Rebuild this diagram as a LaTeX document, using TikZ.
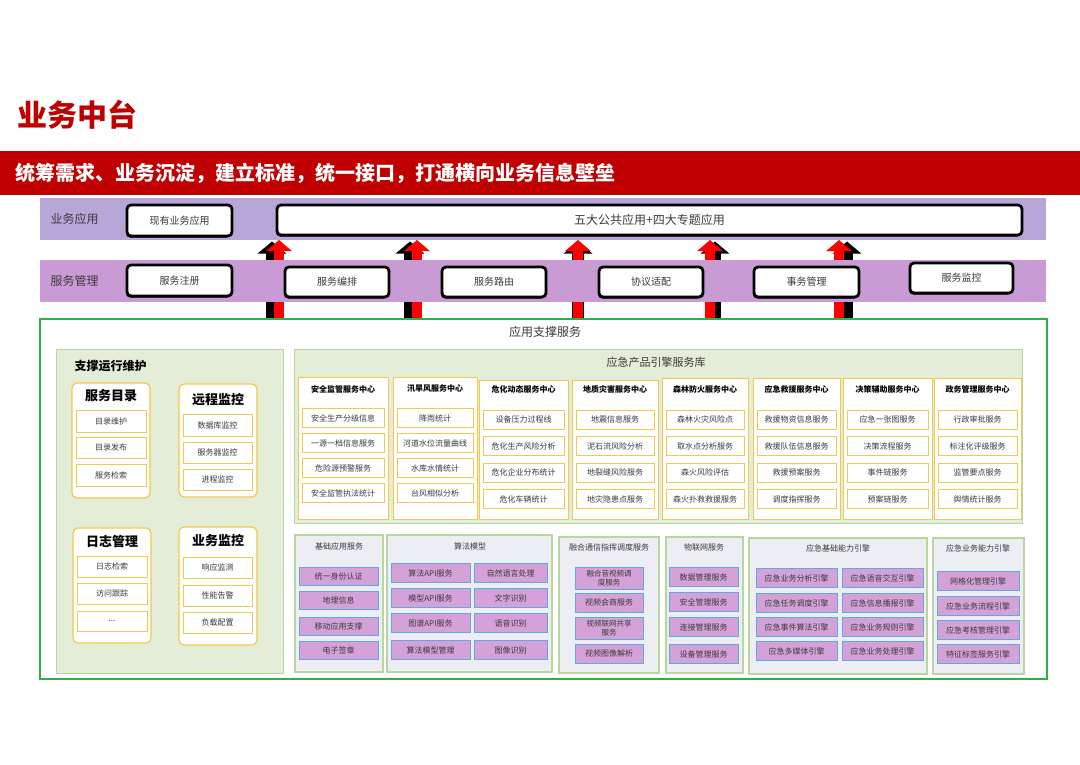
\documentclass[tikz,border=0pt]{standalone}
\usepackage{fontspec}
\setmainfont{Noto Sans CJK SC}
\usetikzlibrary{arrows.meta,shadows}
\definecolor{tred}{HTML}{C00000}
\definecolor{bred}{HTML}{C00000}
\definecolor{bandA}{HTML}{B8A6D8}
\definecolor{bandB}{HTML}{C99BD4}
\definecolor{gbord}{HTML}{2EB04F}
\definecolor{lgfill}{HTML}{E4EDD7}
\definecolor{lgbord}{HTML}{B9D69E}
\definecolor{ybord}{HTML}{F2C94C}
\definecolor{pfill}{HTML}{EDEEF4}
\definecolor{ifill}{HTML}{D4A2D8}
\definecolor{ibord}{HTML}{5EA9DE}
\definecolor{txt}{HTML}{3A3A3A}
\newcommand\myfs[1]{\fontsize{#1}{#1}\selectfont}
\newcommand\rb[7]{\node[#1, minimum width={(#5)-(#3)}, minimum height={(#6)-(#4)}] (#2) at ({((#3)+(#5))/2},{((#4)+(#6))/2}) {#7};}
\def\myrs{418}\def\myrp{25}
\newcommand\engcol[6]{%
  \rb{ycol}{#1}{#2}{#4}{#3}{519}{}
  \node[hdr] (#1h) at ({((#2)+(#3))/2},389) {#5};
  \foreach \t [count=\i] in {#6}{%
    \pgfmathsetmacro\yy{\myrs+(\i-1)*\myrp}
    \rb{eitem}{#1i\i}{#2+4}{\yy-9.5}{#3-4}{\yy+9.5}{\t}
  }}
\tikzset{
  base/.style={inner sep=0pt, outer sep=0pt},
  blk/.style={base, draw=black, line width=2.8pt, fill=white, rounded corners=4pt, font=\myfs{10}, text=txt,
    drop shadow={shadow xshift=-1pt, shadow yshift=-1.5pt, opacity=1, fill=black}},
  lgpanel/.style={base, draw=lgbord, line width=1pt, fill=lgfill},
  ygroup/.style={base, draw=ybord, line width=1.2pt, fill=white, rounded corners=5pt},
  yitem/.style={base, draw=ybord, line width=1pt, fill=white, font=\myfs{8}, text=txt},
  gtitle/.style={font=\myfs{13}\bfseries, text=black},
  ycol/.style={base, draw=ybord, line width=1pt, fill=white},
  eitem/.style={base, draw=ybord, line width=1pt, fill=white, font=\myfs{8}, text=txt},
  hdr/.style={font=\myfs{8}\bfseries, text=black},
  bpan/.style={base, draw=lgbord, line width=1.2pt, fill=pfill},
  ptitle/.style={font=\myfs{8}, text=txt},
  pitem/.style={base, draw=ibord, line width=1pt, fill=ifill, font=\myfs{8}, text=txt},
  blabel/.style={anchor=west, font=\myfs{12}, text=txt},
  arrshadow/.style={black, line width=12pt, -{Triangle[width=28pt,length=12pt]}},
  arrred/.style={red, line width=10pt, -{Triangle[width=25pt,length=11pt]}}
}
\begin{document}
\begin{tikzpicture}[x=1pt,y=-1pt]
\useasboundingbox (0,0) rectangle (1080,764);
\fill[white] (0,0) rectangle (1080,764);
% title and banner
\node[anchor=west, text=tred, font=\myfs{30}\bfseries] (title) at (14,115) {业务中台};
\fill[bred] (0,151) rectangle (1080,195);
\node[anchor=west, text=white, font=\myfs{20}\bfseries] (banner) at (12,173) {统筹需求、业务沉淀，建立标准，统一接口，打通横向业务信息壁垒};
% arrows
\foreach \ax/\sh [count=\k] in {279/-7,417/-7,578/0,710/5,839/8} {
  \coordinate (as\k) at (\ax,318);
  \coordinate (ae\k) at (\ax,240);
  \draw[transform canvas={xshift=\sh pt, yshift=-1.5pt}, arrshadow] (as\k) -- (ae\k);
  \draw[arrred] (as\k) -- (ae\k);
}
% bands
\fill[bandA] (40,198) rectangle (1046,240);
\fill[bandB] (40,260) rectangle (1046,302);
\node[blabel] (lbA) at (47,219) {业务应用};
\node[blabel] (lbB) at (47,281) {服务管理};
\rb{blk}{xy}{127}{205}{232}{236}{现有业务应用}
\rb{blk,font=\myfs{12}}{wd}{277}{205}{1022}{235}{五大公共应用+四大专题应用}
\rb{blk}{zc}{127}{265}{232}{296}{服务注册}
\rb{blk}{bp}{285}{267}{389}{297}{服务编排}
\rb{blk}{ly}{442}{267}{546}{297}{服务路由}
\rb{blk}{xs}{599}{267}{703}{297}{协议适配}
\rb{blk}{sw}{754}{267}{859}{297}{事务管理}
\rb{blk}{jk}{910}{263}{1013}{293}{服务监控}
% green container
\fill[white] (38,318) rectangle (1049,326);
\draw[gbord, line width=2.5pt] (40,319) rectangle (1047,679);
\node[font=\myfs{12}, text=txt] (yyzc) at (545,332) {应用支撑服务};
% left panel
\rb{lgpanel}{sup}{56}{349}{283}{673}{}
\node[anchor=west, font=\myfs{12}\bfseries] (supt) at (71,366) {支撑运行维护};
\rb{ygroup}{g1}{72}{383}{150}{498}{}
\node[gtitle] (g1t) at (111,396) {服务目录};
\rb{yitem}{g1a}{76}{410}{146}{432}{目录维护}
\rb{yitem}{g1b}{76}{437}{146}{458}{目录发布}
\rb{yitem}{g1c}{76}{464}{146}{486}{服务检索}
\rb{ygroup}{g2}{179}{384}{257}{497}{}
\node[gtitle] (g2t) at (218,400) {远程监控};
\rb{yitem}{g2a}{183}{414}{252}{436}{数据库监控}
\rb{yitem}{g2b}{183}{442}{252}{463}{服务器监控}
\rb{yitem}{g2c}{183}{469}{252}{490}{进程监控}
\rb{ygroup}{g3}{73}{528}{151}{643}{}
\node[gtitle] (g3t) at (112,541) {日志管理};
\rb{yitem}{g3a}{77}{556}{147}{577}{日志检索}
\rb{yitem}{g3b}{77}{583}{147}{604}{访问跟踪}
\rb{yitem}{g3c}{77}{611}{147}{631}{...}
\rb{ygroup}{g4}{179}{527}{257}{645}{}
\node[gtitle] (g4t) at (218,541) {业务监控};
\rb{yitem}{g4a}{183}{557}{252}{578}{响应监测}
\rb{yitem}{g4b}{183}{585}{252}{606}{性能告警}
\rb{yitem}{g4c}{183}{612}{252}{633}{负载配置}
% engine library
\rb{lgpanel}{lib}{294}{349}{1022}{523}{}
\node[font=\myfs{11}, text=txt] (libt) at (656,362) {应急产品引擎服务库};
\engcol{c1}{298}{388}{377}{安全监管服务中心}{安全生产分级信息,一源一档信息服务,危险源预警服务,安全监管执法统计}
\engcol{c2}{393}{477}{377}{汛旱风服务中心}{降雨统计,河道水位流量曲线,水库水情统计,台风相似分析}
\def\myrs{419.5}\def\myrp{26.5}
\engcol{c3}{479}{568}{380}{危化动态服务中心}{设备压力过程线,危化生产风险分析,危化企业分布统计,危化车辆统计}
\engcol{c4}{572}{658}{380}{地质灾害服务中心}{地震信息服务,泥石流风险分析,地裂缝风险服务,地灾隐患点服务}
\engcol{c5}{662}{748}{378}{森林防火服务中心}{森林火灾风险点,取水点分析服务,森火风险评估,森火扑救救援服务}
\engcol{c6}{753}{840}{378}{应急救援服务中心}{救援物资信息服务,救援队伍信息服务,救援预案服务,调度指挥服务}
\engcol{c7}{843}{932}{378}{决策辅助服务中心}{应急一张图服务,决策流程服务,事件链服务,预案链服务}
\engcol{c8}{934}{1021}{378}{政务管理服务中心}{行政审批服务,标注化评级服务,监管要点服务,舆情统计服务}
% bottom panels
\rb{bpan}{bp1}{295}{535}{383}{672}{}
\node[ptitle] (bp1t) at (339,546) {基础应用服务};
\foreach \t/\yc [count=\i] in {统一身份认证/576,地理信息/600,移动应用支撑/626,电子签章/650}{
  \rb{pitem}{bp1i\i}{299}{\yc-9}{378}{\yc+9}{\t}}
\rb{bpan}{bp2}{387}{535}{552}{672}{}
\node[ptitle] (bp2t) at (470,546) {算法模型};
\foreach \ta/\tb/\yc [count=\i] in {算法API服务/自然语言处理/573,模型API服务/文字识别/598,图谱API服务/语音识别/623,算法模型管理/图像识别/650}{
  \rb{pitem}{bp2a\i}{391}{\yc-9.5}{470}{\yc+9.5}{\ta}
  \rb{pitem}{bp2b\i}{474}{\yc-9.5}{547}{\yc+9.5}{\tb}}
\rb{bpan}{bp3}{559}{537}{659}{673}{}
\node[ptitle] (bp3t) at (609,547) {融合通信指挥调度服务};
\rb{pitem,align=center,font={\fontsize{7.5}{8.5}\selectfont}}{bp3i1}{575}{567}{643}{589}{融合音视频调\\度服务}
\rb{pitem}{bp3i2}{575}{593}{643}{612}{视频会商服务}
\rb{pitem,align=center,font={\fontsize{7.5}{8.5}\selectfont}}{bp3i3}{575}{617}{643}{639}{视频联网共享\\服务}
\rb{pitem}{bp3i4}{575}{644}{643}{663}{视频图像解析}
\rb{bpan}{bp4}{666}{537}{743}{673}{}
\node[ptitle] (bp4t) at (704,547) {物联网服务};
\foreach \t/\yc [count=\i] in {数据管理服务/577,安全管理服务/602,连接管理服务/627,设备管理服务/654}{
  \rb{pitem}{bp4i\i}{669}{\yc-9.5}{738}{\yc+9.5}{\t}}
\rb{bpan}{bp5}{749}{538}{927}{674}{}
\node[ptitle] (bp5t) at (838,548) {应急基础能力引擎};
\foreach \ta/\tb/\yc [count=\i] in {应急业务分析引擎/应急语音交互引擎/578,应急任务调度引擎/应急信息播报引擎/603,应急事件算法引擎/应急业务规则引擎/627,应急多媒体引擎/应急业务处理引擎/651}{
  \rb{pitem}{bp5a\i}{756}{\yc-9.5}{837}{\yc+9.5}{\ta}
  \rb{pitem}{bp5b\i}{842}{\yc-9.5}{923}{\yc+9.5}{\tb}}
\rb{bpan}{bp6}{933}{538}{1024}{674}{}
\node[ptitle] (bp6t) at (978,548) {应急业务能力引擎};
\foreach \t/\yc [count=\i] in {网格化管理引擎/581,应急业务流程引擎/606,应急考核管理引擎/630,特征标签服务引擎/654}{
  \rb{pitem}{bp6i\i}{937}{\yc-9.5}{1019}{\yc+9.5}{\t}}
\end{tikzpicture}
\end{document}
